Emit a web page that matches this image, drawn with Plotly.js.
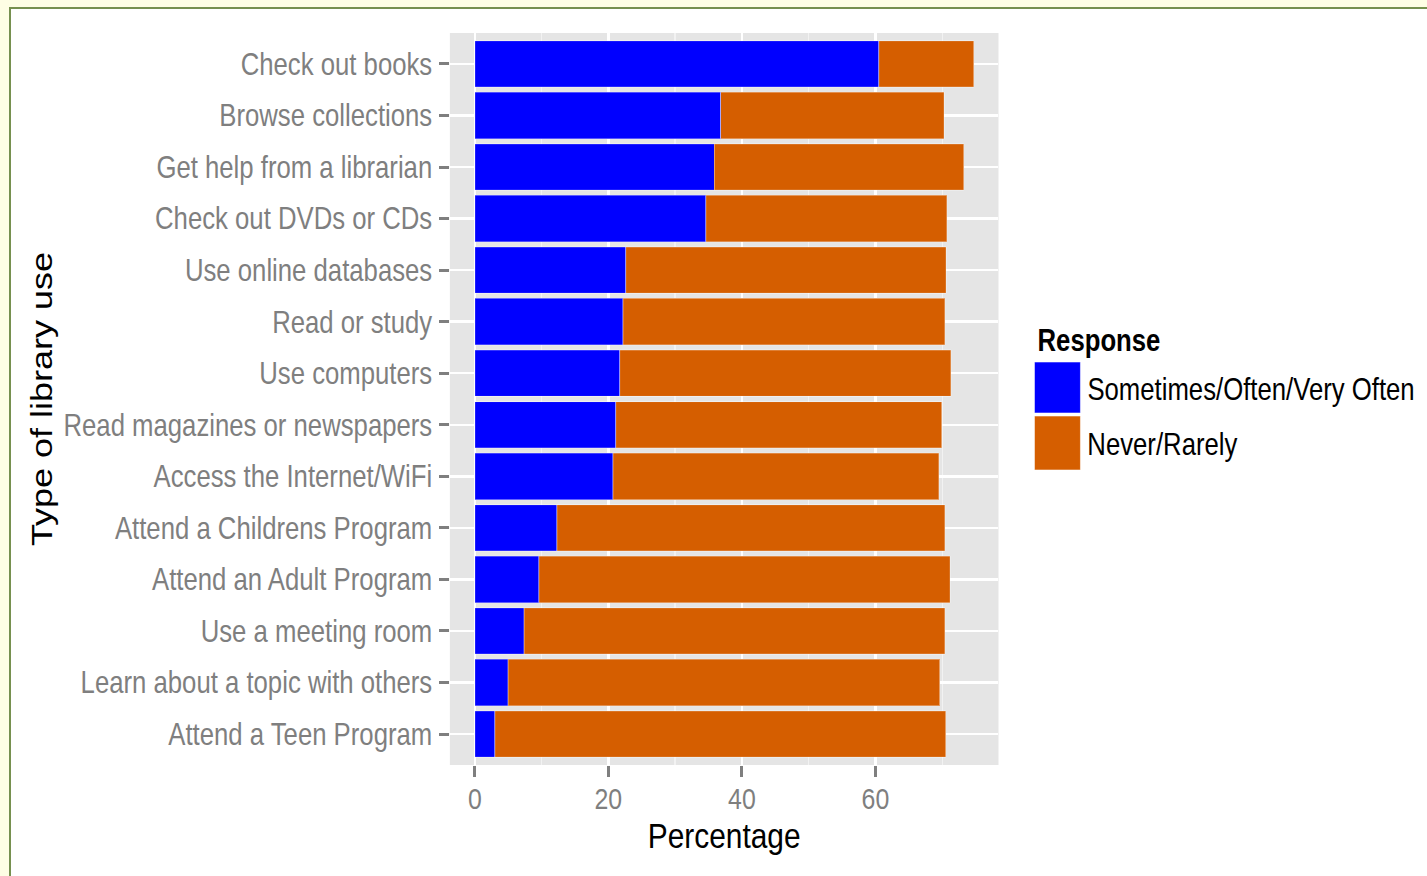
<!DOCTYPE html>
<html>
<head>
<meta charset="utf-8">
<script src="https://cdn.plot.ly/plotly-3.0.1.min.js"></script>
<style>
  html, body { margin: 0; padding: 0; width: 1427px; height: 876px; overflow: hidden; background: #fefee4; }
  #frame { position: absolute; left: 9px; top: 7px; width: 1430px; height: 880px; background: #ffffff;
           border-left: 2px solid #76904f; border-top: 2px solid #76904f; }
  #chart { position: absolute; left: 0; top: 0; transform-origin: 0 0; }
</style>
</head>
<body>
<div id="frame"></div>
<div id="chart"></div>
<script>
// ---- data ----
const categories = [
  "Check out books",
  "Browse collections",
  "Get help from a librarian",
  "Check out DVDs or CDs",
  "Use online databases",
  "Read or study",
  "Use computers",
  "Read magazines or newspapers",
  "Access the Internet/WiFi",
  "Attend a Childrens Program",
  "Attend an Adult Program",
  "Use a meeting room",
  "Learn about a topic with others",
  "Attend a Teen Program"
];
const seriesNames = ["Sometimes/Often/Very Often", "Never/Rarely"];
const oftenValues = [60.5, 36.8, 35.9, 34.6, 22.6, 22.2, 21.7, 21.1, 20.7, 12.3, 9.6, 7.4, 5.0, 3.0];
const neverValues = [14.2, 33.5, 37.3, 36.1, 48.0, 48.2, 49.6, 48.8, 48.8, 58.1, 61.6, 63.0, 64.6, 67.5];
const xTickValues = [0, 20, 40, 60];
const legendTitle = "Response";
const xTitle = "Percentage";
const yTitle = "Type of library use";

// ---- styling ----
// The reference is horizontally condensed; draw wider and squeeze with scaleX.
const S = 0.83;
const colors = ["#0000ff", "#d55e00"];
const FONT = "'Liberation Sans', Arial, Helvetica, sans-serif";
const W = 1427 / S, H = 876;
const X = v => v / S;                 // screen x -> layout x
const PL = X(450), PR = X(999), PT = 33, PB = 765;
const px = x => (X(x) - PL) / (PR - PL);
const py = y => (PB - y) / (PB - PT);

const chartDiv = document.getElementById("chart");
chartDiv.style.width = W + "px";
chartDiv.style.height = H + "px";
chartDiv.style.transform = "scaleX(" + S + ")";

const maxTotal = Math.max(...oftenValues.map((v, i) => v + neverValues[i]));
const pad = maxTotal * 0.05;

const traces = [oftenValues, neverValues].map((vals, k) => ({
  type: "bar",
  orientation: "h",
  name: seriesNames[k],
  y: categories,
  x: vals,
  marker: { color: colors[k], line: { color: "rgba(255,255,255,0.45)", width: 1 } },
  showlegend: false,
  hoverinfo: "x+y+name"
}));

// manual legend (keys sized like the ggplot legend)
const keyTop = [362, 416], keyBot = [413, 470];
const shapes = seriesNames.map((n, k) => ({
  type: "rect", xref: "paper", yref: "paper",
  x0: px(1035), x1: px(1081), y0: py(keyBot[k]), y1: py(keyTop[k]),
  fillcolor: colors[k], line: { color: "rgba(255,255,255,0.6)", width: 1 }, layer: "above"
}));
const annotations = [
  { text: "<b>" + legendTitle + "</b>", xref: "paper", yref: "paper", x: px(1036), y: py(340),
    xanchor: "left", yanchor: "middle", showarrow: false, font: { family: FONT, size: 31, color: "#000000" } }
].concat(seriesNames.map((n, k) => ({
  text: n, xref: "paper", yref: "paper", x: px(1086), y: py((keyTop[k] + keyBot[k]) / 2 + 2),
  xanchor: "left", yanchor: "middle", showarrow: false, font: { family: FONT, size: 31, color: "#000000" }
})));

const layout = {
  width: W, height: H,
  margin: { l: PL, r: W - PR, t: PT, b: H - PB, pad: 0 },
  paper_bgcolor: "rgba(0,0,0,0)",
  plot_bgcolor: "#e5e5e5",
  barmode: "stack",
  bargap: 0.1,
  showlegend: false,
  font: { family: FONT, color: "#7f7f7f" },
  xaxis: {
    range: [-pad, maxTotal + pad],
    tickvals: xTickValues,
    ticktext: xTickValues.map(String),
    ticks: "outside", ticklen: 11, tickwidth: 3 / S, tickcolor: "#7f7f7f",
    tickfont: { family: FONT, size: 30, color: "#7f7f7f" },
    ticklabelstandoff: -4,
    showgrid: true, gridcolor: "#ffffff", gridwidth: 2.5 / S,
    minor: { tickvals: [10, 30, 50, 70], showgrid: true, gridcolor: "#f2f2f2", gridwidth: 1.2 / S, ticks: "" },
    zeroline: false, showline: false,
    title: { text: xTitle, font: { family: FONT, size: 36, color: "#000000" }, standoff: 0 },
    automargin: false,
    fixedrange: true
  },
  yaxis: {
    type: "category",
    categoryorder: "array",
    categoryarray: categories,
    range: [categories.length - 0.4, -0.6],
    ticks: "outside", ticklen: X(10), tickwidth: 3, tickcolor: "#7f7f7f",
    tickfont: { family: FONT, size: 31, color: "#7f7f7f" },
    ticklabelstandoff: 2,
    showgrid: true, gridcolor: "#ffffff", gridwidth: 2.5,
    zeroline: false, showline: false,
    title: { text: yTitle, font: { family: FONT, size: 36, color: "#000000" }, standoff: 2 },
    automargin: false,
    fixedrange: true
  },
  shapes: shapes,
  annotations: annotations
};

Plotly.newPlot("chart", traces, layout, { displayModeBar: false, staticPlot: true });
</script>
</body>
</html>
